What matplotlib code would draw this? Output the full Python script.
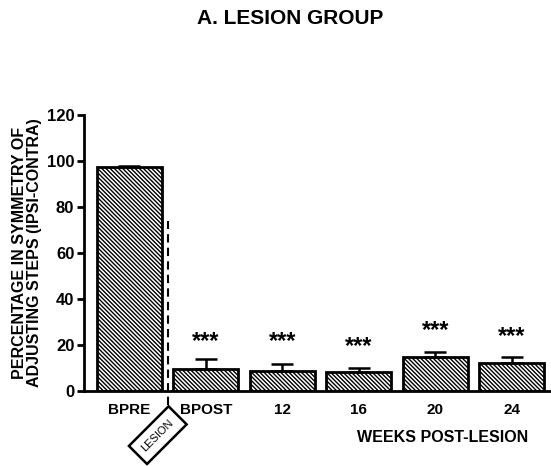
import numpy as np
import matplotlib.pyplot as plt

plt.rcParams['font.family'] = ['Liberation Sans', 'DejaVu Sans']
plt.rcParams['font.weight'] = 'bold'
plt.rcParams['axes.labelweight'] = 'bold'
plt.rcParams['hatch.color'] = '#444444'
plt.rcParams['hatch.linewidth'] = 1.0

# data
groups = ['BPRE', 'BPOST', '12', '16', '20', '24']
means = [97.5, 9.6, 8.7, 8.1, 14.8, 12.0]
sem = [0.4, 4.4, 2.9, 2.0, 2.2, 2.9]
stars = ['', '***', '***', '***', '***', '***']
star_y = [0, 21.5, 21.5, 19.5, 26.5, 23.5]

fig = plt.figure(figsize=(5.51, 4.66), dpi=100)
ax = fig.add_axes([84 / 551, 75 / 466, 466 / 551, 276 / 466])

x = np.arange(len(groups))
ax.bar(x, means, width=0.85, color='white', edgecolor='black', linewidth=2,
       hatch='\\' * 8, zorder=2)
ax.errorbar(x, means, yerr=[np.zeros(len(sem)), sem], fmt='none', ecolor='black',
            elinewidth=1.8, capsize=8, capthick=1.8, zorder=3)

for xi, s, sy in zip(x, stars, star_y):
    if s:
        ax.text(xi, sy, s, ha='center', va='center', fontsize=17)

# lesion marker
ax.plot([0.5, 0.5], [-6, 74], color='black', lw=1.5, ls=(0, (4, 2.5)), clip_on=False)
ax.text(0.37, -0.16, 'LESION', transform=ax.get_xaxis_transform(), rotation=45,
        ha='center', va='center', fontsize=8, fontweight='normal',
        bbox=dict(boxstyle='square,pad=0.7', fc='white', ec='black', lw=1.8))

ax.set_xlim(-0.595, 5.5)
ax.set_ylim(0, 120)
ax.set_yticks(np.arange(0, 121, 20))
ax.set_xticks(x)
ax.set_xticklabels(groups)
ax.tick_params(axis='y', length=5, width=2, labelsize=12, direction='out', pad=2)
ax.tick_params(axis='x', length=0, labelsize=11, pad=9)

for sp in ['top', 'right']:
    ax.spines[sp].set_visible(False)
ax.spines['left'].set_linewidth(2)
ax.spines['bottom'].set_linewidth(2)

ax.set_ylabel('PERCENTAGE IN SYMMETRY OF\nADJUSTING STEPS (IPSI-CONTRA)',
              fontsize=11.5, labelpad=3, linespacing=1.05)
fig.text(528 / 551, 1 - 437 / 466, 'WEEKS POST-LESION', ha='right', va='center',
         fontsize=11.5)
fig.text(290 / 551, 1 - 18 / 466, 'A. LESION GROUP', ha='center', va='center',
         fontsize=15)

fig.savefig('out.png', dpi=100)
